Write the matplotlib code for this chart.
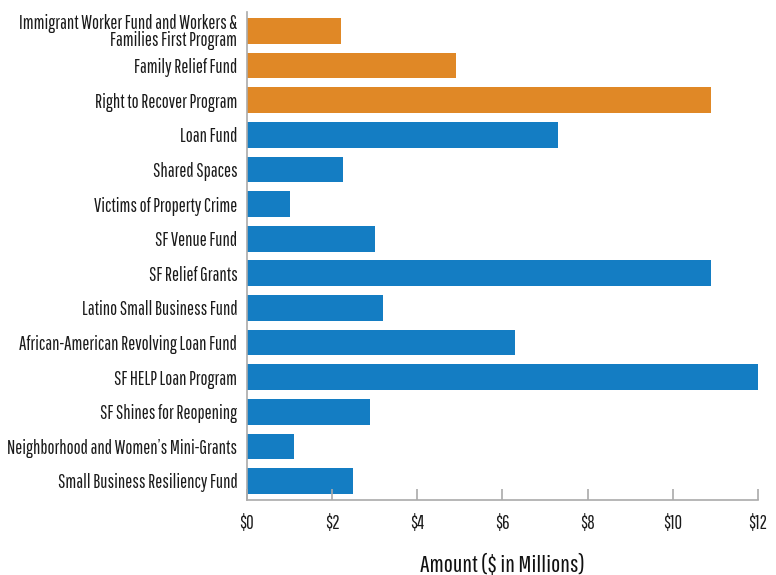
import matplotlib
matplotlib.use("Agg")
import matplotlib.pyplot as plt

categories = [
    "Immigrant Worker Fund and Workers &\nFamilies First Program",
    "Family Relief Fund",
    "Right to Recover Program",
    "Loan Fund",
    "Shared Spaces",
    "Victims of Property Crime",
    "SF Venue Fund",
    "SF Relief Grants",
    "Latino Small Business Fund",
    "African-American Revolving Loan Fund",
    "SF HELP Loan Program",
    "SF Shines for Reopening",
    "Neighborhood and Women’s Mini-Grants",
    "Small Business Resiliency Fund",
]
values = [2.2, 4.9, 10.9, 7.3, 2.25, 1.0, 3.0, 10.9, 3.2, 6.3, 12.0, 2.9, 1.1, 2.5]
groups = ["orange"] * 3 + ["blue"] * 11
xticks = [0, 2, 4, 6, 8, 10, 12]
xticklabels = ["$0", "$2", "$4", "$6", "$8", "$10", "$12"]
xlabel = "Amount ($ in Millions)"

colors = {"orange": "#E08826", "blue": "#147DC3"}
FONT = ["Pathway Gothic One", "DejaVu Sans"]
plt.rcParams["font.family"] = FONT

fig = plt.figure(figsize=(7.76, 5.75), dpi=100)

# fit font size so that the widest label line is ~219 px wide
r = fig.canvas.get_renderer()
probe = fig.text(0, 0, "African-American Revolving Loan Fund", fontsize=10)
w10 = probe.get_window_extent(r).width
probe.remove()
fs = 10 * 219 / w10

ax = fig.add_axes([247 / 776, 1 - 500 / 575, (758 - 247) / 776, (500 - 12) / 575])
ypos = list(range(len(categories)))
ax.barh(ypos, values, height=0.74, color=[colors[g] for g in groups])
ax.set_ylim(len(categories) - 0.45, -0.55)
ax.set_xlim(0, 12)
ax.set_yticks(ypos)
ax.set_yticklabels(categories, fontsize=fs, color="#1a1a1a", linespacing=0.85)
ax.set_xticks(xticks)
ax.set_xticklabels(xticklabels, fontsize=fs, color="#1a1a1a")
ax.tick_params(axis="y", length=0, pad=7)
ax.tick_params(axis="x", direction="in", length=8, color="#aaaaaa", width=1.2, pad=10)
for s in ["top", "right"]:
    ax.spines[s].set_visible(False)
for s in ["left", "bottom"]:
    ax.spines[s].set_color("#aaaaaa")
    ax.spines[s].set_linewidth(1.2)
ax.set_xlabel(xlabel, fontsize=fs * 1.3, color="#111111", labelpad=15)

fig.savefig("out.png", dpi=100)
